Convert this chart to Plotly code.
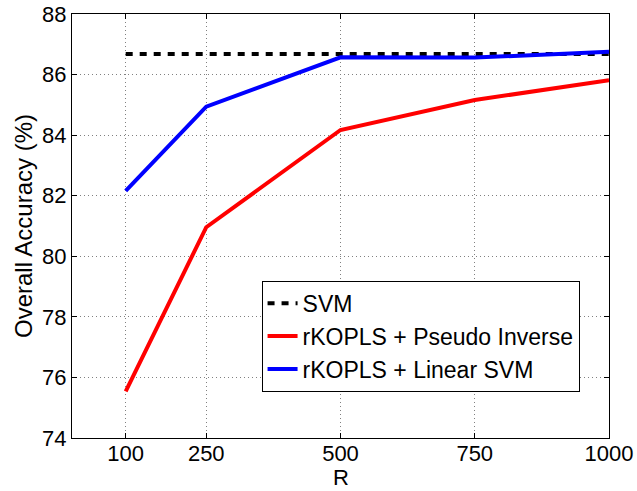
import plotly.graph_objects as go

R = [100, 250, 500, 750, 1000]
svm = [86.68, 86.68, 86.68, 86.68, 86.68]
pseudo_inv = [75.54, 80.96, 84.17, 85.16, 85.81]
linear_svm = [82.16, 84.94, 86.57, 86.56, 86.75]
x_ticks = [100, 250, 500, 750, 1000]
y_ticks = [74, 76, 78, 80, 82, 84, 86, 88]

FONT = "Liberation Sans, Arial, Helvetica, sans-serif"

fig = go.Figure()
fig.add_trace(go.Scatter(x=R, y=svm, mode="lines", name="SVM",
                         line=dict(color="black", width=4, dash="7px,7px")))
fig.add_trace(go.Scatter(x=R, y=pseudo_inv, mode="lines", name="rKOPLS + Pseudo Inverse",
                         line=dict(color="#ff0000", width=4)))
fig.add_trace(go.Scatter(x=R, y=linear_svm, mode="lines", name="rKOPLS + Linear SVM",
                         line=dict(color="#0000ff", width=4)))

axis_common = dict(showline=True, linecolor="black", linewidth=1, mirror="ticks",
                   ticks="inside", ticklen=5, tickcolor="black", automargin=False,
                   showgrid=True, gridcolor="#808080", griddash="1px,3px", gridwidth=1,
                   zeroline=False, tickfont=dict(size=22, color="black", family=FONT))

fig.update_xaxes(range=[0, 1000], tickvals=x_ticks, ticktext=[str(v) for v in x_ticks],
                 ticklabelstandoff=-4, **axis_common)
fig.update_yaxes(range=[74, 88], tickvals=y_ticks, ticktext=[str(v) for v in y_ticks],
                 **axis_common)

fig.add_annotation(text="R", xref="paper", yref="paper", x=0.5, y=0,
                   xanchor="center", yanchor="bottom", yshift=-53, showarrow=False,
                   borderpad=0, font=dict(size=22, color="black", family=FONT))
fig.add_annotation(text="Overall Accuracy (%)", xref="paper", yref="paper", x=0, y=0.5,
                   xanchor="center", yanchor="middle", xshift=-49, textangle=-90, showarrow=False,
                   font=dict(size=24, color="black", family=FONT))

fig.update_layout(
    width=637, height=491,
    margin=dict(l=72, r=28, t=14, b=53, autoexpand=False),
    plot_bgcolor="white", paper_bgcolor="white",
    font=dict(family=FONT, color="black"),
    legend=dict(x=0.353, y=0.371, xanchor="left", yanchor="top",
                bgcolor="white", bordercolor="black", borderwidth=1,
                font=dict(size=23, color="black", family=FONT),
                itemwidth=30, tracegroupgap=0),
    showlegend=True,
)

fig.write_html("out.html")
